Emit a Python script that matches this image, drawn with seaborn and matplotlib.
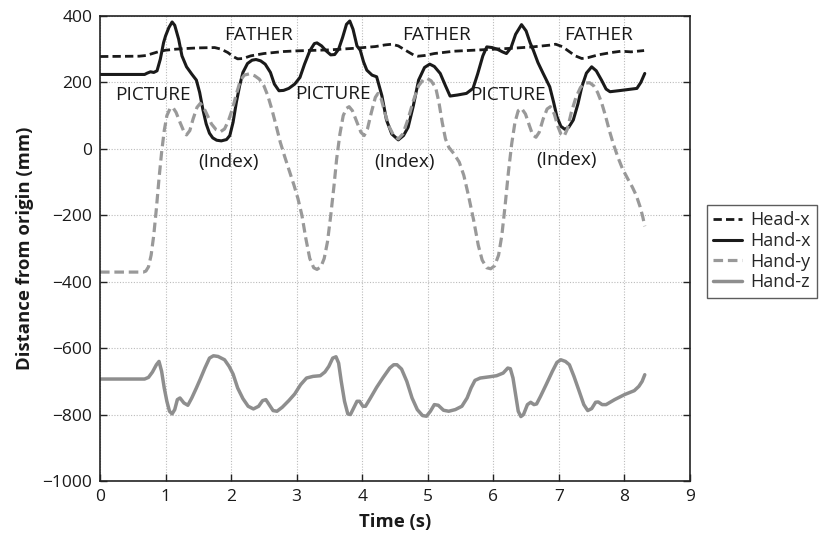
import matplotlib
matplotlib.use("Agg")
import matplotlib.pyplot as plt
import seaborn as sns
import pandas as pd

sns.set_theme(style="white")
plt.rcParams['font.family'] = ['Open Sans', 'DejaVu Sans']

# ---- data ----
head_x_t = [0, 0.6, 0.7, 0.8, 0.9, 1.0, 1.15, 1.3, 1.5, 1.75, 1.85, 1.95, 2.03, 2.1, 2.18,
            2.3, 2.5, 2.8, 3.0, 3.5, 3.9, 4.2, 4.35, 4.45, 4.55, 4.65, 4.78, 4.85, 4.95,
            5.1, 5.4, 6.0, 6.3, 6.6, 6.85, 6.95, 7.05, 7.15, 7.25, 7.35, 7.45, 7.6, 7.8,
            7.95, 8.1, 8.3]
head_x_v = [278, 279, 281, 287, 293, 297, 300, 302, 304, 305, 300, 290, 278, 271, 272,
            280, 287, 293, 295, 298, 303, 308, 313, 315, 310, 298, 283, 279, 281,
            287, 294, 300, 303, 307, 312, 315, 308, 294, 280, 272, 275, 283, 290,
            294, 292, 296]

hand_x_t = [0, 0.68, 0.72, 0.77, 0.82, 0.87, 0.92, 0.97, 1.0, 1.05, 1.1, 1.14, 1.2, 1.25,
            1.32, 1.4, 1.47, 1.52, 1.57, 1.62, 1.67, 1.72, 1.78, 1.85, 1.93, 1.98, 2.03,
            2.08, 2.13, 2.18, 2.25, 2.32, 2.38, 2.45, 2.52, 2.6, 2.66, 2.73, 2.8, 2.88,
            2.97, 3.05, 3.12, 3.2, 3.27, 3.31, 3.38, 3.45, 3.52, 3.58, 3.64, 3.7, 3.76,
            3.81, 3.86, 3.92, 3.97, 4.02, 4.07, 4.15, 4.22, 4.3, 4.37, 4.45, 4.55, 4.63,
            4.7, 4.78, 4.86, 4.95, 5.03, 5.1, 5.19, 5.27, 5.34, 5.45, 5.59, 5.69, 5.76,
            5.84, 5.9, 5.98, 6.06, 6.14, 6.2, 6.27, 6.34, 6.43, 6.5, 6.56, 6.61, 6.68,
            6.76, 6.86, 6.92, 6.97, 7.03, 7.09, 7.15, 7.22, 7.29, 7.35, 7.42, 7.5, 7.57,
            7.65, 7.72, 7.78, 7.95, 8.19, 8.25, 8.31]
hand_x_v = [224, 224, 228, 232, 230, 235, 270, 320, 340, 365, 382, 372, 330, 280,
            247, 225, 207, 170, 118, 75, 47, 33, 26, 24, 28, 40, 80,
            140, 190, 230, 257, 267, 269, 265, 255, 230, 195, 175, 176, 182,
            195, 215, 255, 295, 317, 319, 310, 295, 283, 284, 300, 335, 375,
            385, 360, 310, 297, 262, 237, 222, 217, 160, 87, 45, 27, 40,
            65, 130, 207, 245, 255, 248, 227, 190, 159, 162, 167, 182, 225,
            280, 307, 305, 300, 292, 287, 305, 345, 374, 355, 320, 297, 260,
            227, 187, 140, 97, 68, 59, 65, 87, 135, 187, 228, 247, 235,
            207, 180, 172, 176, 182, 200, 227]

hand_y_t = [0, 0.66, 0.7, 0.74, 0.78, 0.82, 0.86, 0.9, 0.94, 0.98, 1.02, 1.07, 1.11, 1.16,
            1.22, 1.28, 1.32, 1.37, 1.42, 1.48, 1.53, 1.58, 1.64, 1.7, 1.77, 1.84, 1.9,
            1.96, 2.02, 2.08, 2.14, 2.2, 2.28, 2.36, 2.43, 2.5, 2.56, 2.62, 2.68, 2.75,
            2.82, 2.9, 2.96, 3.02, 3.08, 3.14, 3.2, 3.26, 3.31, 3.37, 3.42, 3.47, 3.52,
            3.57, 3.61, 3.66, 3.71, 3.76, 3.8, 3.85, 3.92, 3.98, 4.03, 4.08, 4.14, 4.2,
            4.24, 4.29, 4.35, 4.41, 4.48, 4.55, 4.62, 4.7, 4.78, 4.86, 4.93, 4.99, 5.05,
            5.12, 5.17, 5.22, 5.27, 5.32, 5.4, 5.48, 5.55, 5.62, 5.7, 5.77, 5.83, 5.9,
            5.96, 6.02, 6.08, 6.13, 6.18, 6.23, 6.28, 6.33, 6.38, 6.43, 6.49, 6.55, 6.6,
            6.65, 6.7, 6.76, 6.82, 6.87, 6.93, 6.98, 7.03, 7.08, 7.13, 7.19, 7.26, 7.33,
            7.4, 7.47, 7.53, 7.59, 7.65, 7.71, 7.77, 7.83, 7.9, 7.97, 8.05, 8.12, 8.18,
            8.24, 8.28, 8.31]
hand_y_v = [-371, -371, -368, -355, -320, -260, -180, -90, -10, 55, 100, 122, 125, 110,
            80, 52, 42, 55, 90, 125, 137, 125, 100, 75, 58, 52, 60,
            85, 120, 165, 205, 222, 226, 220, 210, 190, 160, 120, 75, 20,
            -25, -73, -110, -150, -200, -270, -330, -358, -363, -355, -330, -280, -200,
            -110, -30, 45, 100, 122, 127, 115, 80, 50, 40, 60, 110, 155,
            167, 150, 105, 67, 40, 30, 45, 90, 145, 190, 208, 212, 205,
            185, 140, 80, 30, 5, -15, -40, -80, -140, -215, -290, -335, -358,
            -361, -352, -320, -260, -170, -70, 15, 80, 115, 122, 105, 70, 42,
            35, 50, 90, 120, 127, 105, 70, 45, 38, 60, 110, 155, 185,
            198, 199, 190, 170, 140, 100, 55, 15, -25, -60, -90, -115, -140,
            -175, -205, -233]

hand_z_t = [0, 0.68, 0.74, 0.8, 0.86, 0.9, 0.94, 0.98, 1.02, 1.06, 1.1, 1.14, 1.18, 1.22,
            1.28, 1.34, 1.4, 1.47, 1.53, 1.6, 1.67, 1.73, 1.8, 1.9, 1.97, 2.03, 2.1, 2.18,
            2.26, 2.34, 2.42, 2.48, 2.53, 2.58, 2.64, 2.7, 2.78, 2.88, 2.97, 3.06, 3.15,
            3.25, 3.36, 3.43, 3.49, 3.55, 3.6, 3.64, 3.68, 3.73, 3.78, 3.82, 3.87, 3.92,
            3.96, 4.01, 4.05, 4.12, 4.22, 4.32, 4.42, 4.48, 4.53, 4.6, 4.68, 4.76, 4.84,
            4.92, 4.98, 5.04, 5.1, 5.16, 5.24, 5.32, 5.42, 5.52, 5.6, 5.66, 5.72, 5.8,
            5.95, 6.05, 6.15, 6.22, 6.26, 6.3, 6.34, 6.38, 6.42, 6.46, 6.52, 6.57, 6.62,
            6.66, 6.72, 6.81, 6.9, 6.97, 7.03, 7.1, 7.16, 7.23, 7.31, 7.38, 7.44, 7.5,
            7.56, 7.6, 7.66, 7.72, 7.85, 8.0, 8.15, 8.22, 8.27, 8.31]
hand_z_v = [-693, -693, -688, -672, -650, -640, -670, -720, -760, -790, -798, -785, -755, -750,
            -765, -772, -750, -720, -693, -660, -630, -623, -625, -635, -655, -678, -720, -752,
            -775, -783, -775, -758, -755, -770, -788, -790, -778, -758, -738, -710, -690,
            -685, -683, -672, -655, -630, -626, -645, -700, -760, -798, -800, -780, -760,
            -760, -775, -775, -752, -718, -688, -660, -650, -650, -663, -700, -750, -785,
            -803, -805, -790, -770, -772, -787, -790, -785, -775, -750, -720, -697, -690,
            -686, -683, -675, -660, -662, -690, -740, -790, -806, -800, -770, -763, -770,
            -768, -745, -708, -670, -643, -635, -640, -650, -685, -730, -770, -788, -782,
            -763, -762, -770, -770, -755, -740, -728, -715, -700, -680]

annot_text = ["FATHER", "FATHER", "FATHER", "PICTURE", "PICTURE", "PICTURE",
              "(Index)", "(Index)", "(Index)"]
annot_t = [2.42, 5.14, 7.6, 0.8, 3.56, 6.23, 1.96, 4.65, 7.12]
annot_v = [343, 343, 343, 161, 164, 161, -41, -41, -34]

series = [("Head-x", head_x_t, head_x_v, "#1a1a1a", (3, 1.5), 2.0),
          ("Hand-x", hand_x_t, hand_x_v, "#1a1a1a", None, 2.2),
          ("Hand-y", hand_y_t, hand_y_v, "#999999", (3, 1.5), 2.3),
          ("Hand-z", hand_z_t, hand_z_v, "#8e8e8e", None, 2.5)]

fig = plt.figure(figsize=(8.2, 5.42), dpi=100)
ax = fig.add_axes([100 / 820, 1 - 481 / 542, 590 / 820, (481 - 16) / 542])

handles = []
for name, t, v, color, dash, lw in series:
    df = pd.DataFrame({"t": t, "v": v})
    sns.lineplot(data=df, x="t", y="v", ax=ax, color=color, linewidth=lw,
                 estimator=None, sort=False, legend=False)
    line = ax.lines[-1]
    line.set_solid_joinstyle("round")
    line.set_dash_joinstyle("round")
    if dash is not None:
        line.set_dashes(dash)
    line.set_label(name)
    handles.append(line)

for txt, t, v in zip(annot_text, annot_t, annot_v):
    ax.text(t, v, txt, ha="center", va="center", fontsize=13.7, color="#1a1a1a")

ax.set_xlim(0, 9)
ax.set_ylim(-1000, 400)
ax.set_xticks(range(0, 10))
ax.set_yticks(range(-1000, 401, 200))
ax.set_yticklabels([str(v).replace("-", "\u2212") for v in range(-1000, 401, 200)])
ax.grid(True, color="#bbbbbb", linestyle=(0, (1, 1.5)), linewidth=0.8)
ax.tick_params(direction="in", length=5, width=1, colors="#222222",
               labelsize=12.5, left=True, bottom=True, right=True, top=False,
               labelcolor="#1a1a1a")
ax.tick_params(axis="y", pad=5.5)
ax.tick_params(axis="x", pad=5.5)
for s in ax.spines.values():
    s.set_color("#222222")
    s.set_linewidth(1.2)
ax.set_xlabel("Time (s)", fontsize=13.3, fontweight="bold", labelpad=6, color="#1a1a1a")
ax.set_ylabel("Distance from origin (mm)", fontsize=13.3, fontweight="bold", labelpad=6,
              color="#1a1a1a")

leg = ax.legend(handles=handles, loc="upper left", bbox_to_anchor=(707 / 820, 1 - 205 / 542),
                bbox_transform=fig.transFigure, frameon=True, fancybox=False,
                fontsize=13, handlelength=1.6, handletextpad=0.45, labelspacing=0.15,
                borderpad=0.35, borderaxespad=0)
leg.get_frame().set_edgecolor("#333333")
leg.get_frame().set_linewidth(1.0)

fig.savefig("out.png", dpi=100)
